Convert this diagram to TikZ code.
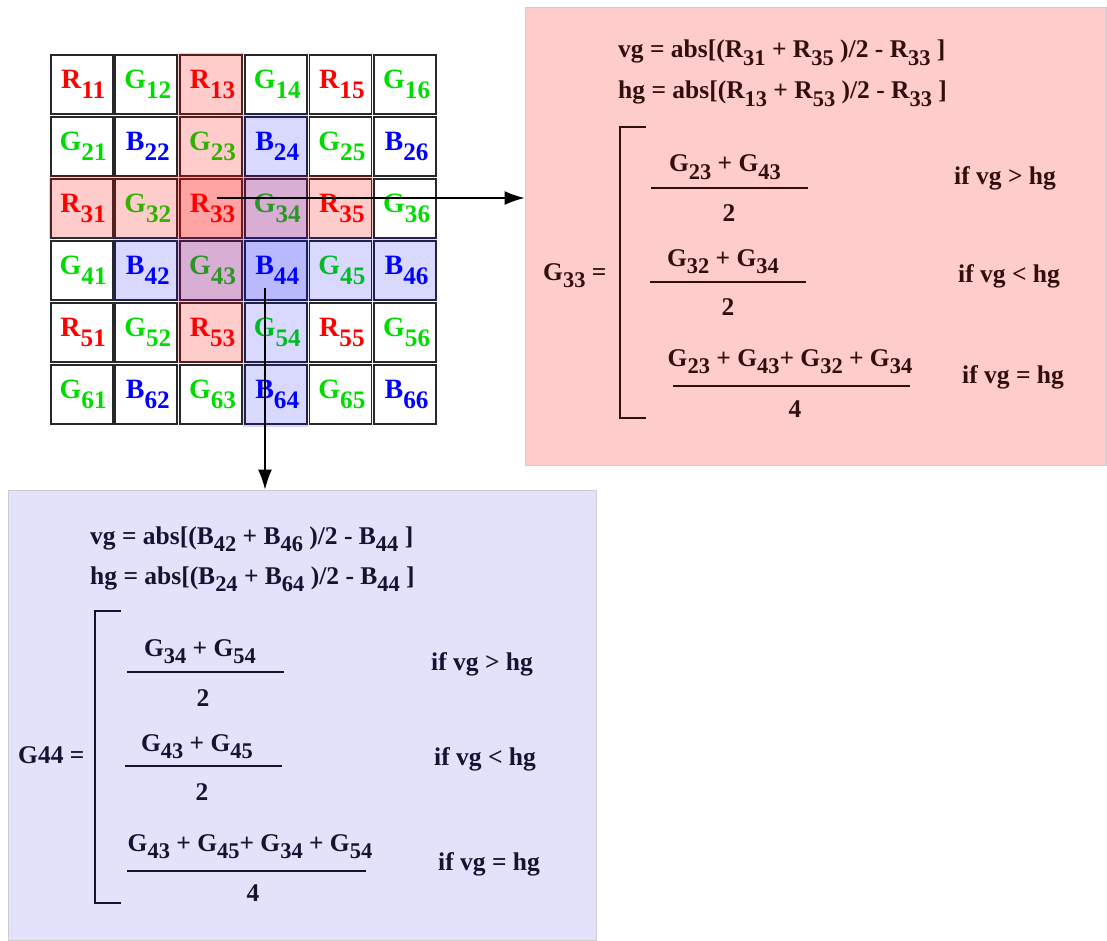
\documentclass[tikz,border=0pt]{standalone}
\usepackage{fontspec}
\setmainfont{Liberation Serif}
\usepackage{graphicx}
\usetikzlibrary{arrows.meta,calc}
\definecolor{rc}{RGB}{255,0,0}
\definecolor{gc}{RGB}{0,220,0}
\definecolor{bc}{RGB}{0,0,255}
\definecolor{pinkbg}{RGB}{255,204,204}
\definecolor{bluebg}{RGB}{226,226,250}
\definecolor{ptext}{RGB}{50,15,15}
\definecolor{btext}{RGB}{20,20,50}
\definecolor{cellline}{RGB}{40,40,40}
\definecolor{boxline}{RGB}{205,205,205}
\newcommand\sbs[1]{\raisebox{-0.28em}{\scalebox{0.88}{#1}}}
\newcommand\gsb[1]{\raisebox{-0.36em}{\scalebox{0.9}{#1}}}
\newcommand\cellletter[2]{\hspace*{3pt}\ifodd#1\relax\ifodd#2\relax\textcolor{rc}{R\gsb{#1#2}}\else\textcolor{gc}{G\gsb{#1#2}}\fi\else\ifodd#2\relax\textcolor{gc}{G\gsb{#1#2}}\else\textcolor{bc}{B\gsb{#1#2}}\fi\fi}
\begin{document}
\begin{tikzpicture}[x=1pt,y=-1pt,
  cellbox/.style={draw=cellline,line width=1.9pt,minimum width=62pt,minimum height=59pt,inner sep=0pt,font=\fontsize{28}{30}\selectfont\bfseries},
  formula/.style={inner sep=0pt,font=\fontsize{25.5}{28}\selectfont\bfseries},
  pinkf/.style={formula,text=ptext},
  bluef/.style={formula,text=btext},
  pline/.style={draw=ptext,line width=1.8pt},
  bline/.style={draw=btext,line width=1.8pt},
  pinkpanel/.style={fill=pinkbg,draw=boxline,line width=1pt,minimum width=581pt,minimum height=457pt,inner sep=0pt},
  bluepanel/.style={fill=bluebg,draw=boxline,line width=1pt,minimum width=588pt,minimum height=450pt,inner sep=0pt},
  conn/.style={draw=black,line width=1.3pt,-{Latex[length=20pt,width=14pt]}},
  pinkhl/.style={fill=red,fill opacity=0.2},
  bluehl/.style={fill=blue,fill opacity=0.15}
]
\useasboundingbox (0,0) rectangle (1107,941);
% grid
\foreach \r in {1,...,6}{
  \foreach \c in {1,...,6}{
    \node[cellbox] (c\r\c) at ({49.3+64.7*(\c-0.5)},{53.3+62*(\r-0.5)}) {\cellletter{\r}{\c}};
  }
}
% highlights
\fill[pinkhl] (177.7,53.3) rectangle (243.3,363.3);
\fill[pinkhl] (49.3,176) rectangle (373.3,238.3);
\fill[bluehl] (243.3,114) rectangle (308.3,427);
\fill[bluehl] (113.3,238.3) rectangle (437.3,301);
% panels
\node[pinkpanel] (pinkbox) at (815.5,236.5) {};
\node[bluepanel] (bluebox) at (302,715) {};
% arrows
\coordinate (rsrc) at (217,198);
\coordinate (bsrc) at (265,288);
\draw[conn] (rsrc) -- (rsrc -| pinkbox.west);
\draw[conn] (bsrc) -- (bsrc |- bluebox.north);
% pink panel text
\node[pinkf,anchor=base west] (pvg) at (618,58) {vg = abs[(R\sbs{31} + R\sbs{35} )/2 - R\sbs{33} ]};
\node[pinkf,anchor=base west] (phg) at (618,99) {hg = abs[(R\sbs{13} + R\sbs{53} )/2 - R\sbs{33} ]};
\node[pinkf,anchor=base west] (pG) at (543,280) {G\sbs{33} =};
\draw[pline] (646,127) -- (620,127) -- (620,418) -- (646,418);
\node[pinkf,anchor=base] (pn1) at (725,172) {G\sbs{23} + G\sbs{43}};
\draw[pline] (651,188) -- (808,188);
\node[pinkf,anchor=base] (pd1) at (729,222) {2};
\node[pinkf,anchor=base west] (pc1) at (954,185) {if vg > hg};
\node[pinkf,anchor=base] (pn2) at (723,266) {G\sbs{32} + G\sbs{34}};
\draw[pline] (650,282) -- (806,282);
\node[pinkf,anchor=base] (pd2) at (728,315) {2};
\node[pinkf,anchor=base west] (pc2) at (958,282) {if vg < hg};
\node[pinkf,anchor=base] (pn3) at (790,366) {G\sbs{23} + G\sbs{43}+ G\sbs{32} + G\sbs{34}};
\draw[pline] (673,386) -- (910,386);
\node[pinkf,anchor=base] (pd3) at (795,417) {4};
\node[pinkf,anchor=base west] (pc3) at (962,383) {if vg = hg};
% blue panel text
\node[bluef,anchor=base west] (bvg) at (90,544) {vg = abs[(B\sbs{42} + B\sbs{46} )/2 - B\sbs{44} ]};
\node[bluef,anchor=base west] (bhg) at (90,584) {hg = abs[(B\sbs{24} + B\sbs{64} )/2 - B\sbs{44} ]};
\node[bluef,anchor=base west] (bG) at (18,763) {G44 =};
\draw[bline] (121,611) -- (95,611) -- (95,903) -- (121,903);
\node[bluef,anchor=base] (bn1) at (200,656) {G\sbs{34} + G\sbs{54}};
\draw[bline] (127,672) -- (284,672);
\node[bluef,anchor=base] (bd1) at (203,706) {2};
\node[bluef,anchor=base west] (bc1) at (431,670) {if vg > hg};
\node[bluef,anchor=base] (bn2) at (197,751) {G\sbs{43} + G\sbs{45}};
\draw[bline] (125,766) -- (282,766);
\node[bluef,anchor=base] (bd2) at (202,800) {2};
\node[bluef,anchor=base west] (bc2) at (434,765) {if vg < hg};
\node[bluef,anchor=base] (bn3) at (250,851) {G\sbs{43} + G\sbs{45}+ G\sbs{34} + G\sbs{54}};
\draw[bline] (127,871) -- (366,871);
\node[bluef,anchor=base] (bd3) at (253,901) {4};
\node[bluef,anchor=base west] (bc3) at (438,870) {if vg = hg};
\end{tikzpicture}
\end{document}
